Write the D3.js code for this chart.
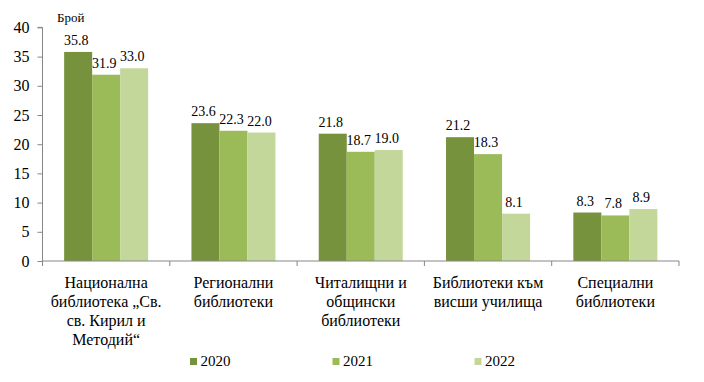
<!DOCTYPE html>
<html><head><meta charset="utf-8">
<script src="https://cdn.jsdelivr.net/npm/d3@7"></script>
<style>
html,body{margin:0;padding:0;background:#fff;}
</style></head>
<body><svg id="c" width="704" height="382" style="font-family:'Liberation Serif','Times New Roman',Tinos,serif !important"></svg>
<script>
const categoryLines = [
  ["Национална", "библиотека „Св.", "св. Кирил и", "Методий“"],
  ["Регионални", "библиотеки"],
  ["Читалищни и", "общински", "библиотеки"],
  ["Библиотеки към", "висши училища"],
  ["Специални", "библиотеки"]
];
const categories = categoryLines.map(l => l.join(" "));
const years = ["2020", "2021", "2022"];
const values2020 = [35.8, 23.6, 21.8, 21.2, 8.3];
const values2021 = [31.9, 22.3, 18.7, 18.3, 7.8];
const values2022 = [33.0, 22.0, 19.0, 8.1, 8.9];
const yTicks = [0, 5, 10, 15, 20, 25, 30, 35, 40];
const yLabel = "Брой";
const colors = ["#76923C", "#9BBB59", "#C4D79B"];

const series = [values2020, values2021, values2022];
const svg = d3.select("#c");
const mLeft = 42.5, mRight = 679, mTop = 27.4, mBottom = 261;

const x0 = d3.scaleBand().domain(categories).range([mLeft, mRight]).padding(0);
const x1 = d3.scaleBand().domain(years)
  .range([x0.bandwidth() * 0.17, x0.bandwidth() * 0.83]).padding(0);
const y = d3.scaleLinear().domain([0, 40]).range([mBottom, mTop]);

function txt(sel, size) {
  return sel.attr("style",
    `font-family:'Liberation Serif','Times New Roman',Tinos,serif !important;font-size:${size}px !important;fill:#000`);
}

// bars
categories.forEach((c, i) => {
  const g = svg.append("g").attr("transform", `translate(${x0(c)},0)`);
  years.forEach((yr, j) => {
    const v = series[j][i];
    g.append("rect")
      .attr("x", x1(yr)).attr("y", y(v))
      .attr("width", x1.bandwidth()).attr("height", y(0) - y(v))
      .attr("fill", colors[j]);
    txt(g.append("text"), 14)
      .attr("x", x1(yr) + x1.bandwidth() / 2 - 2)
      .attr("y", y(v) - 7)
      .attr("text-anchor", "middle")
      .text(v.toFixed(1));
  });
});

const axisColor = "#878787";
// y axis
const ya = svg.append("g").attr("transform", `translate(${mLeft},0)`)
  .call(d3.axisLeft(y).tickValues(yTicks).tickSize(5).tickPadding(8));
ya.attr("font-family", null).attr("font-size", null);
ya.select(".domain").attr("stroke", axisColor).attr("d", `M-5,${y(40)}H0V${y(0)}`);
ya.selectAll(".tick line").attr("stroke", axisColor);
txt(ya.selectAll(".tick text"), 16);

// x axis
const xa = svg.append("g").attr("transform", `translate(0,${mBottom})`);
xa.append("line").attr("x1", mLeft).attr("x2", mRight).attr("y1", 0).attr("y2", 0)
  .attr("stroke", axisColor);
const bounds = categories.map(c => x0(c)).concat([mRight]);
bounds.forEach(b => xa.append("line").attr("x1", b).attr("x2", b)
  .attr("y1", 0).attr("y2", 5).attr("stroke", axisColor));

categories.forEach((c, i) => {
  const t = txt(svg.append("text"), 16)
    .attr("x", x0(c) + x0.bandwidth() / 2)
    .attr("y", 288)
    .attr("text-anchor", "middle");
  categoryLines[i].forEach((ln, k) => {
    t.append("tspan").attr("x", x0(c) + x0.bandwidth() / 2)
      .attr("dy", k === 0 ? 0 : 19).text(ln);
  });
});

// y label
txt(svg.append("text"), 13).attr("x", 57).attr("y", 22).text(yLabel);

// legend
const legX = d3.scaleOrdinal().domain(years).range([190, 332.5, 474.5]);
years.forEach((yr, j) => {
  svg.append("rect").attr("x", legX(yr)).attr("y", 358)
    .attr("width", 7).attr("height", 7).attr("fill", colors[j]);
  txt(svg.append("text"), 15).attr("x", legX(yr) + 10.5).attr("y", 366).text(yr);
});
</script></body></html>
